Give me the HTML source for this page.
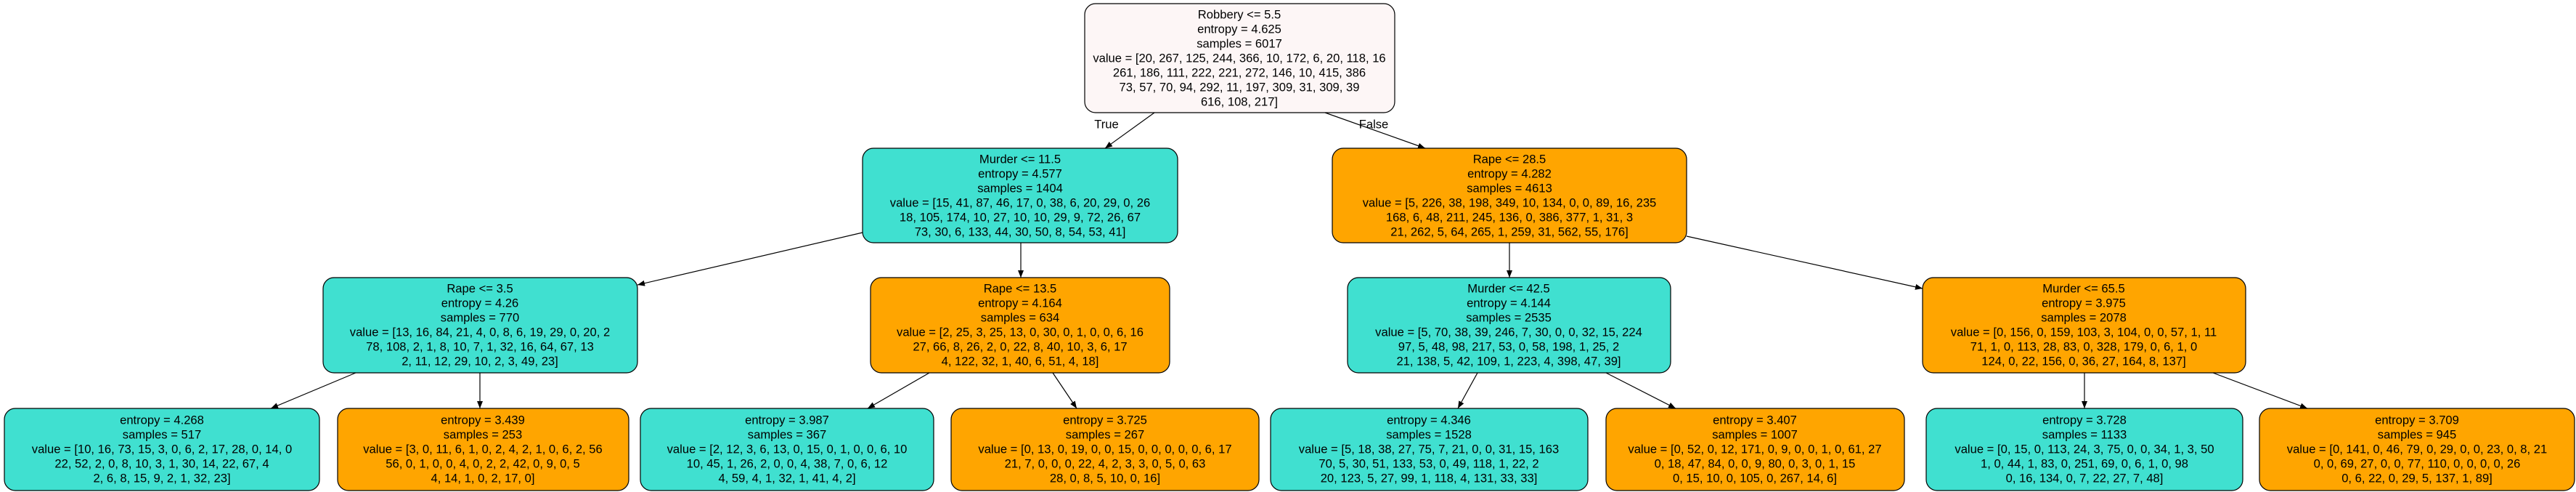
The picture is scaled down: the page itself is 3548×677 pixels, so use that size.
<!DOCTYPE html>
<html><head><meta charset="utf-8"><style>
html,body{margin:0;padding:0;background:#fff;}
svg{display:block;}
text{font-family:"Liberation Sans",Arial,sans-serif;font-size:16.6px;fill:#000;text-anchor:middle;dominant-baseline:central;}
</style></head><body>
<svg width="3548" height="677" viewBox="0 0 3548 677" xmlns="http://www.w3.org/2000/svg">
<defs><marker id="a" markerWidth="10" markerHeight="8" refX="10" refY="4" orient="auto" markerUnits="userSpaceOnUse"><path d="M0,0 L10,4 L0,8 z" fill="#000"/></marker></defs>
<g stroke="#000" stroke-width="1.2" fill="none" marker-end="url(#a)">
<line x1="1590" y1="155" x2="1522" y2="204"/>
<line x1="1825" y1="155" x2="1963" y2="204"/>
<line x1="1188" y1="320" x2="878" y2="392"/>
<line x1="1406" y1="334" x2="1406" y2="382"/>
<line x1="2079" y1="334" x2="2079" y2="382"/>
<line x1="2323" y1="325" x2="2648" y2="397"/>
<line x1="490" y1="513" x2="373" y2="562"/>
<line x1="661" y1="513" x2="661" y2="562"/>
<line x1="1280" y1="513" x2="1195" y2="562"/>
<line x1="1450" y1="513" x2="1483" y2="562"/>
<line x1="2035" y1="513" x2="2008" y2="562"/>
<line x1="2212" y1="513" x2="2308" y2="562"/>
<line x1="2871" y1="513" x2="2871" y2="562"/>
<line x1="3048" y1="513" x2="3178" y2="562"/>
</g>
<text x="1524" y="171">True</text>
<text x="1892" y="171">False</text>
<g stroke="#000" stroke-width="1.2">
<rect x="1494" y="5" width="427" height="150" rx="15" fill="#fdf6f6"/>
<rect x="1188" y="204" width="434" height="130" rx="15" fill="#40e0d0"/>
<rect x="1835" y="204" width="488" height="130" rx="15" fill="#ffa500"/>
<rect x="445" y="382" width="433" height="131" rx="15" fill="#40e0d0"/>
<rect x="1199" y="382" width="412" height="131" rx="15" fill="#ffa500"/>
<rect x="1856" y="382" width="445" height="131" rx="15" fill="#40e0d0"/>
<rect x="2648" y="382" width="445" height="131" rx="15" fill="#ffa500"/>
<rect x="6" y="562" width="434" height="113" rx="15" fill="#40e0d0"/>
<rect x="465" y="562" width="401" height="113" rx="15" fill="#ffa500"/>
<rect x="882" y="562" width="404" height="113" rx="15" fill="#40e0d0"/>
<rect x="1310" y="562" width="424" height="113" rx="15" fill="#ffa500"/>
<rect x="1750" y="562" width="437" height="113" rx="15" fill="#40e0d0"/>
<rect x="2212" y="562" width="411" height="113" rx="15" fill="#ffa500"/>
<rect x="2653" y="562" width="436" height="113" rx="15" fill="#40e0d0"/>
<rect x="3112" y="562" width="434" height="113" rx="15" fill="#ffa500"/>
</g>
<!-- root -->
<text x="1707" y="20">Robbery &lt;= 5.5</text>
<text x="1707" y="40">entropy = 4.625</text>
<text x="1707" y="60">samples = 6017</text>
<text x="1707" y="80">value = [20, 267, 125, 244, 366, 10, 172, 6, 20, 118, 16</text>
<text x="1707" y="100">261, 186, 111, 222, 221, 272, 146, 10, 415, 386</text>
<text x="1707" y="120">73, 57, 70, 94, 292, 11, 197, 309, 31, 309, 39</text>
<text x="1707" y="140">616, 108, 217]</text>
<!-- murder 11.5 -->
<text x="1405" y="219">Murder &lt;= 11.5</text>
<text x="1405" y="239">entropy = 4.577</text>
<text x="1405" y="259">samples = 1404</text>
<text x="1405" y="279">value = [15, 41, 87, 46, 17, 0, 38, 6, 20, 29, 0, 26</text>
<text x="1405" y="299">18, 105, 174, 10, 27, 10, 10, 29, 9, 72, 26, 67</text>
<text x="1405" y="319">73, 30, 6, 133, 44, 30, 50, 8, 54, 53, 41]</text>
<!-- rape 28.5 -->
<text x="2079" y="219">Rape &lt;= 28.5</text>
<text x="2079" y="239">entropy = 4.282</text>
<text x="2079" y="259">samples = 4613</text>
<text x="2079" y="279">value = [5, 226, 38, 198, 349, 10, 134, 0, 0, 89, 16, 235</text>
<text x="2079" y="299">168, 6, 48, 211, 245, 136, 0, 386, 377, 1, 31, 3</text>
<text x="2079" y="319">21, 262, 5, 64, 265, 1, 259, 31, 562, 55, 176]</text>
<!-- rape 3.5 -->
<text x="661" y="397">Rape &lt;= 3.5</text>
<text x="661" y="417">entropy = 4.26</text>
<text x="661" y="437">samples = 770</text>
<text x="661" y="457">value = [13, 16, 84, 21, 4, 0, 8, 6, 19, 29, 0, 20, 2</text>
<text x="661" y="477">78, 108, 2, 1, 8, 10, 7, 1, 32, 16, 64, 67, 13</text>
<text x="661" y="497">2, 11, 12, 29, 10, 2, 3, 49, 23]</text>
<!-- rape 13.5 -->
<text x="1405" y="397">Rape &lt;= 13.5</text>
<text x="1405" y="417">entropy = 4.164</text>
<text x="1405" y="437">samples = 634</text>
<text x="1405" y="457">value = [2, 25, 3, 25, 13, 0, 30, 0, 1, 0, 0, 6, 16</text>
<text x="1405" y="477">27, 66, 8, 26, 2, 0, 22, 8, 40, 10, 3, 6, 17</text>
<text x="1405" y="497">4, 122, 32, 1, 40, 6, 51, 4, 18]</text>
<!-- murder 42.5 -->
<text x="2078" y="397">Murder &lt;= 42.5</text>
<text x="2078" y="417">entropy = 4.144</text>
<text x="2078" y="437">samples = 2535</text>
<text x="2078" y="457">value = [5, 70, 38, 39, 246, 7, 30, 0, 0, 32, 15, 224</text>
<text x="2078" y="477">97, 5, 48, 98, 217, 53, 0, 58, 198, 1, 25, 2</text>
<text x="2078" y="497">21, 138, 5, 42, 109, 1, 223, 4, 398, 47, 39]</text>
<!-- murder 65.5 -->
<text x="2870" y="397">Murder &lt;= 65.5</text>
<text x="2870" y="417">entropy = 3.975</text>
<text x="2870" y="437">samples = 2078</text>
<text x="2870" y="457">value = [0, 156, 0, 159, 103, 3, 104, 0, 0, 57, 1, 11</text>
<text x="2870" y="477">71, 1, 0, 113, 28, 83, 0, 328, 179, 0, 6, 1, 0</text>
<text x="2870" y="497">124, 0, 22, 156, 0, 36, 27, 164, 8, 137]</text>
<!-- leaves -->
<text x="223" y="578">entropy = 4.268</text>
<text x="223" y="598">samples = 517</text>
<text x="223" y="618">value = [10, 16, 73, 15, 3, 0, 6, 2, 17, 28, 0, 14, 0</text>
<text x="223" y="638">22, 52, 2, 0, 8, 10, 3, 1, 30, 14, 22, 67, 4</text>
<text x="223" y="658">2, 6, 8, 15, 9, 2, 1, 32, 23]</text>

<text x="665" y="578">entropy = 3.439</text>
<text x="665" y="598">samples = 253</text>
<text x="665" y="618">value = [3, 0, 11, 6, 1, 0, 2, 4, 2, 1, 0, 6, 2, 56</text>
<text x="665" y="638">56, 0, 1, 0, 0, 4, 0, 2, 2, 42, 0, 9, 0, 5</text>
<text x="665" y="658">4, 14, 1, 0, 2, 17, 0]</text>

<text x="1084" y="578">entropy = 3.987</text>
<text x="1084" y="598">samples = 367</text>
<text x="1084" y="618">value = [2, 12, 3, 6, 13, 0, 15, 0, 1, 0, 0, 6, 10</text>
<text x="1084" y="638">10, 45, 1, 26, 2, 0, 0, 4, 38, 7, 0, 6, 12</text>
<text x="1084" y="658">4, 59, 4, 1, 32, 1, 41, 4, 2]</text>

<text x="1522" y="578">entropy = 3.725</text>
<text x="1522" y="598">samples = 267</text>
<text x="1522" y="618">value = [0, 13, 0, 19, 0, 0, 15, 0, 0, 0, 0, 0, 6, 17</text>
<text x="1522" y="638">21, 7, 0, 0, 0, 22, 4, 2, 3, 3, 0, 5, 0, 63</text>
<text x="1522" y="658">28, 0, 8, 5, 10, 0, 16]</text>

<text x="1968" y="578">entropy = 4.346</text>
<text x="1968" y="598">samples = 1528</text>
<text x="1968" y="618">value = [5, 18, 38, 27, 75, 7, 21, 0, 0, 31, 15, 163</text>
<text x="1968" y="638">70, 5, 30, 51, 133, 53, 0, 49, 118, 1, 22, 2</text>
<text x="1968" y="658">20, 123, 5, 27, 99, 1, 118, 4, 131, 33, 33]</text>

<text x="2417" y="578">entropy = 3.407</text>
<text x="2417" y="598">samples = 1007</text>
<text x="2417" y="618">value = [0, 52, 0, 12, 171, 0, 9, 0, 0, 1, 0, 61, 27</text>
<text x="2417" y="638">0, 18, 47, 84, 0, 0, 9, 80, 0, 3, 0, 1, 15</text>
<text x="2417" y="658">0, 15, 10, 0, 105, 0, 267, 14, 6]</text>

<text x="2871" y="578">entropy = 3.728</text>
<text x="2871" y="598">samples = 1133</text>
<text x="2871" y="618">value = [0, 15, 0, 113, 24, 3, 75, 0, 0, 34, 1, 3, 50</text>
<text x="2871" y="638">1, 0, 44, 1, 83, 0, 251, 69, 0, 6, 1, 0, 98</text>
<text x="2871" y="658">0, 16, 134, 0, 7, 22, 27, 7, 48]</text>

<text x="3329" y="578">entropy = 3.709</text>
<text x="3329" y="598">samples = 945</text>
<text x="3329" y="618">value = [0, 141, 0, 46, 79, 0, 29, 0, 0, 23, 0, 8, 21</text>
<text x="3329" y="638">0, 0, 69, 27, 0, 0, 77, 110, 0, 0, 0, 0, 26</text>
<text x="3329" y="658">0, 6, 22, 0, 29, 5, 137, 1, 89]</text>
</svg>
</body></html>
